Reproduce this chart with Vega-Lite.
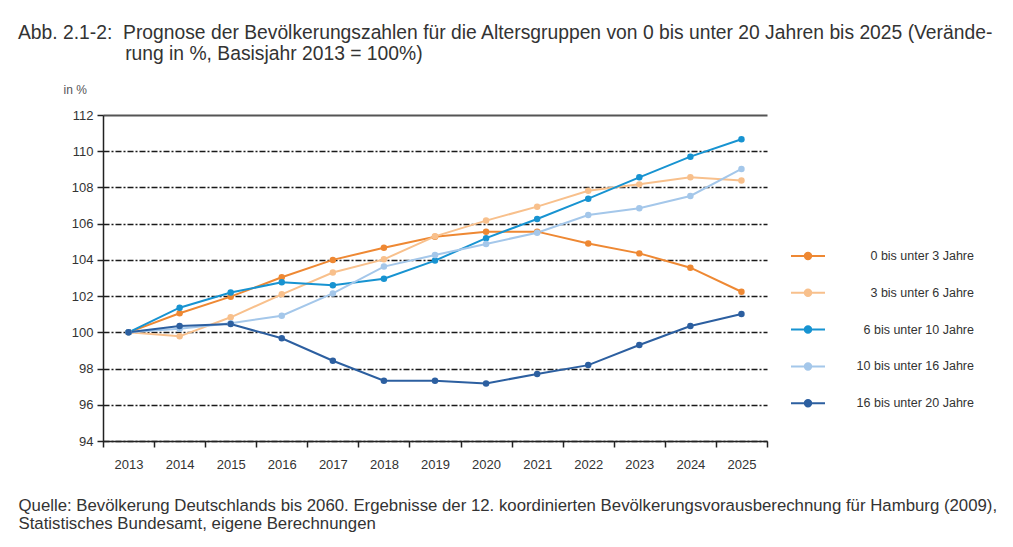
{
  "$schema": "https://vega.github.io/schema/vega-lite/v6.json",
  "width": 664,
  "height": 326,
  "autosize": {"type": "none"},
  "padding": {"left": 103, "top": 115, "right": 246, "bottom": 106},
  "background": "white",
  "title": {
    "text": ["Abb. 2.1-2:\u00a0\u00a0Prognose der Bevölkerungszahlen für die Altersgruppen von 0 bis unter 20 Jahren bis 2025 (Verände-", "\u200b\u00a0\u00a0\u00a0\u00a0\u00a0\u00a0\u00a0\u00a0\u00a0\u00a0\u00a0\u00a0\u00a0\u00a0\u00a0\u00a0\u00a0\u00a0\u00a0\u00a0rung in %, Basisjahr 2013 = 100%)"],
    "anchor": "start",
    "frame": "group",
    "dx": -85,
    "offset": 19,
    "font": "Liberation Sans",
    "fontSize": 19.3,
    "fontWeight": "normal",
    "color": "#333333",
    "lineHeight": 20.5
  },
  "data": {
    "values": [
      {"year": "2013", "group": "0 bis unter 3 Jahre", "value": 100},
      {"year": "2014", "group": "0 bis unter 3 Jahre", "value": 101.05},
      {"year": "2015", "group": "0 bis unter 3 Jahre", "value": 101.97},
      {"year": "2016", "group": "0 bis unter 3 Jahre", "value": 103.04},
      {"year": "2017", "group": "0 bis unter 3 Jahre", "value": 104.0},
      {"year": "2018", "group": "0 bis unter 3 Jahre", "value": 104.67},
      {"year": "2019", "group": "0 bis unter 3 Jahre", "value": 105.28},
      {"year": "2020", "group": "0 bis unter 3 Jahre", "value": 105.56},
      {"year": "2021", "group": "0 bis unter 3 Jahre", "value": 105.56},
      {"year": "2022", "group": "0 bis unter 3 Jahre", "value": 104.9},
      {"year": "2023", "group": "0 bis unter 3 Jahre", "value": 104.36},
      {"year": "2024", "group": "0 bis unter 3 Jahre", "value": 103.57},
      {"year": "2025", "group": "0 bis unter 3 Jahre", "value": 102.24},
      {"year": "2013", "group": "3 bis unter 6 Jahre", "value": 100},
      {"year": "2014", "group": "3 bis unter 6 Jahre", "value": 99.78},
      {"year": "2015", "group": "3 bis unter 6 Jahre", "value": 100.83},
      {"year": "2016", "group": "3 bis unter 6 Jahre", "value": 102.1},
      {"year": "2017", "group": "3 bis unter 6 Jahre", "value": 103.3},
      {"year": "2018", "group": "3 bis unter 6 Jahre", "value": 104.03},
      {"year": "2019", "group": "3 bis unter 6 Jahre", "value": 105.3},
      {"year": "2020", "group": "3 bis unter 6 Jahre", "value": 106.17},
      {"year": "2021", "group": "3 bis unter 6 Jahre", "value": 106.94},
      {"year": "2022", "group": "3 bis unter 6 Jahre", "value": 107.82},
      {"year": "2023", "group": "3 bis unter 6 Jahre", "value": 108.17},
      {"year": "2024", "group": "3 bis unter 6 Jahre", "value": 108.56},
      {"year": "2025", "group": "3 bis unter 6 Jahre", "value": 108.38},
      {"year": "2013", "group": "6 bis unter 10 Jahre", "value": 100},
      {"year": "2014", "group": "6 bis unter 10 Jahre", "value": 101.36},
      {"year": "2015", "group": "6 bis unter 10 Jahre", "value": 102.2},
      {"year": "2016", "group": "6 bis unter 10 Jahre", "value": 102.76},
      {"year": "2017", "group": "6 bis unter 10 Jahre", "value": 102.6},
      {"year": "2018", "group": "6 bis unter 10 Jahre", "value": 102.96},
      {"year": "2019", "group": "6 bis unter 10 Jahre", "value": 103.96},
      {"year": "2020", "group": "6 bis unter 10 Jahre", "value": 105.2},
      {"year": "2021", "group": "6 bis unter 10 Jahre", "value": 106.26},
      {"year": "2022", "group": "6 bis unter 10 Jahre", "value": 107.38},
      {"year": "2023", "group": "6 bis unter 10 Jahre", "value": 108.56},
      {"year": "2024", "group": "6 bis unter 10 Jahre", "value": 109.7},
      {"year": "2025", "group": "6 bis unter 10 Jahre", "value": 110.66},
      {"year": "2013", "group": "10 bis unter 16 Jahre", "value": 100},
      {"year": "2014", "group": "10 bis unter 16 Jahre", "value": 100.2},
      {"year": "2015", "group": "10 bis unter 16 Jahre", "value": 100.5},
      {"year": "2016", "group": "10 bis unter 16 Jahre", "value": 100.92},
      {"year": "2017", "group": "10 bis unter 16 Jahre", "value": 102.15},
      {"year": "2018", "group": "10 bis unter 16 Jahre", "value": 103.63},
      {"year": "2019", "group": "10 bis unter 16 Jahre", "value": 104.27},
      {"year": "2020", "group": "10 bis unter 16 Jahre", "value": 104.88},
      {"year": "2021", "group": "10 bis unter 16 Jahre", "value": 105.5},
      {"year": "2022", "group": "10 bis unter 16 Jahre", "value": 106.48},
      {"year": "2023", "group": "10 bis unter 16 Jahre", "value": 106.85},
      {"year": "2024", "group": "10 bis unter 16 Jahre", "value": 107.53},
      {"year": "2025", "group": "10 bis unter 16 Jahre", "value": 109.02},
      {"year": "2013", "group": "16 bis unter 20 Jahre", "value": 100},
      {"year": "2014", "group": "16 bis unter 20 Jahre", "value": 100.35},
      {"year": "2015", "group": "16 bis unter 20 Jahre", "value": 100.46},
      {"year": "2016", "group": "16 bis unter 20 Jahre", "value": 99.67},
      {"year": "2017", "group": "16 bis unter 20 Jahre", "value": 98.43},
      {"year": "2018", "group": "16 bis unter 20 Jahre", "value": 97.33},
      {"year": "2019", "group": "16 bis unter 20 Jahre", "value": 97.33},
      {"year": "2020", "group": "16 bis unter 20 Jahre", "value": 97.18},
      {"year": "2021", "group": "16 bis unter 20 Jahre", "value": 97.7},
      {"year": "2022", "group": "16 bis unter 20 Jahre", "value": 98.19},
      {"year": "2023", "group": "16 bis unter 20 Jahre", "value": 99.3},
      {"year": "2024", "group": "16 bis unter 20 Jahre", "value": 100.35},
      {"year": "2025", "group": "16 bis unter 20 Jahre", "value": 101.01}
    ]
  },
  "mark": {"type": "line", "strokeWidth": 2, "point": {"filled": true, "size": 42, "opacity": 1}},
  "encoding": {
    "x": {
      "field": "year",
      "type": "ordinal",
      "bandPosition": 0.5,
      "scale": {"type": "band", "paddingInner": 0, "paddingOuter": 0},
      "axis": {
        "tickBand": "extent",
        "labelAngle": 0,
        "labelFont": "Liberation Sans",
        "labelFontSize": 13,
        "labelColor": "#333333",
        "labelPadding": 11,
        "tickSize": 6,
        "tickColor": "#222222",
        "tickWidth": 1.5,
        "domainColor": "#222222",
        "domainWidth": 1.5,
        "grid": false,
        "title": ["Quelle: Bevölkerung Deutschlands bis 2060. Ergebnisse der 12. koordinierten Bevölkerungsvorausberechnung für Hamburg (2009),", "Statistisches Bundesamt, eigene Berechnungen"],
        "titleAnchor": "start",
        "titleAlign": "left",
        "titleBaseline": "top",
        "titleX": -85,
        "titleY": 56,
        "titleFont": "Liberation Sans",
        "titleFontSize": 16.8,
        "titleFontWeight": "normal",
        "titleColor": "#333333",
        "titleLineHeight": 18
      }
    },
    "y": {
      "field": "value",
      "type": "quantitative",
      "scale": {"domain": [94, 112], "nice": false, "zero": false},
      "axis": {
        "values": [94, 96, 98, 100, 102, 104, 106, 108, 110, 112],
        "labelFont": "Liberation Sans",
        "labelFontSize": 13,
        "labelColor": "#333333",
        "labelPadding": 4,
        "tickSize": 6,
        "tickColor": "#222222",
        "tickWidth": 1.5,
        "domainColor": "#222222",
        "domainWidth": 1.5,
        "grid": true,
        "gridColor": {"condition": {"test": "datum.value >= 112", "value": "#555555"}, "value": "#1a1a1a"},
        "gridDash": {"condition": {"test": "datum.value >= 112", "value": []}, "value": [6, 2, 2, 2]},
        "gridWidth": {"condition": {"test": "datum.value >= 112", "value": 2}, "value": 1.3},
        "title": "in %",
        "titleAngle": 0,
        "titleAlign": "left",
        "titleBaseline": "middle",
        "titleX": -40,
        "titleY": -26,
        "titleFont": "Liberation Sans",
        "titleFontSize": 12,
        "titleFontWeight": "normal",
        "titleColor": "#555555"
      }
    },
    "color": {
      "field": "group",
      "type": "nominal",
      "sort": ["0 bis unter 3 Jahre", "3 bis unter 6 Jahre", "6 bis unter 10 Jahre", "10 bis unter 16 Jahre", "16 bis unter 20 Jahre"],
      "scale": {
        "domain": ["0 bis unter 3 Jahre", "3 bis unter 6 Jahre", "6 bis unter 10 Jahre", "10 bis unter 16 Jahre", "16 bis unter 20 Jahre"],
        "range": ["#EE8833", "#F8C08C", "#1793D1", "#A4C7EA", "#2C5FA0"]
      },
      "legend": {
        "orient": "none",
        "legendX": 687,
        "legendY": 123,
        "title": null,
        "padding": 0,
        "symbolType": "M-1,0L1,0M0.19,0A0.19,0.19,0,1,1,-0.19,0A0.19,0.19,0,1,1,0.19,0Z",
        "symbolSize": 1156,
        "symbolStrokeWidth": 2,
        "labelAlign": "right",
        "labelOffset": 148,
        "labelLimit": 300,
        "labelFont": "Liberation Sans",
        "labelFontSize": 12.5,
        "labelColor": "#333333",
        "rowPadding": 10.8,
        "encode": {
          "symbols": {"update": {"fill": {"scale": "color", "field": "value"}, "stroke": {"scale": "color", "field": "value"}, "opacity": {"value": 1}}}
        }
      }
    }
  },
  "config": {
    "view": {"stroke": null},
    "axis": {"labelFontWeight": "normal"}
  }
}
